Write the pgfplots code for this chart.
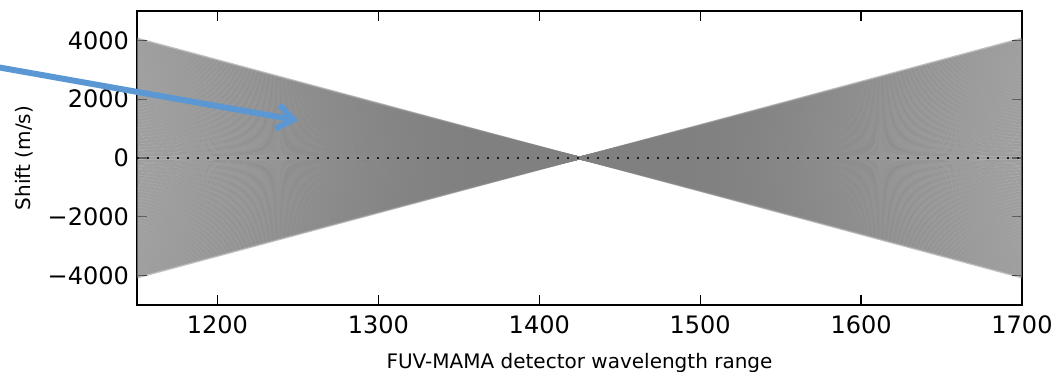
\documentclass[border=0pt]{standalone}
\usepackage{fontspec}
\setmainfont{DejaVu Sans}
\usepackage{pgfplots}
\usepackage{pgfplotstable}
\pgfplotsset{compat=1.18}
\usetikzlibrary{arrows.meta}
\definecolor{arrowblue}{RGB}{91,152,211}
\pgfplotstableread{
x y u v
1150 4050 550 -8100
1150 4000 550 -8000
1150 3950 550 -7900
1150 3900 550 -7800
1150 3850 550 -7700
1150 3800 550 -7600
1150 3750 550 -7500
1150 3700 550 -7400
1150 3650 550 -7300
1150 3600 550 -7200
1150 3550 550 -7100
1150 3500 550 -7000
1150 3450 550 -6900
1150 3400 550 -6800
1150 3350 550 -6700
1150 3300 550 -6600
1150 3250 550 -6500
1150 3200 550 -6400
1150 3150 550 -6300
1150 3100 550 -6200
1150 3050 550 -6100
1150 3000 550 -6000
1150 2950 550 -5900
1150 2900 550 -5800
1150 2850 550 -5700
1150 2800 550 -5600
1150 2750 550 -5500
1150 2700 550 -5400
1150 2650 550 -5300
1150 2600 550 -5200
1150 2550 550 -5100
1150 2500 550 -5000
1150 2450 550 -4900
1150 2400 550 -4800
1150 2350 550 -4700
1150 2300 550 -4600
1150 2250 550 -4500
1150 2200 550 -4400
1150 2150 550 -4300
1150 2100 550 -4200
1150 2050 550 -4100
1150 2000 550 -4000
1150 1950 550 -3900
1150 1900 550 -3800
1150 1850 550 -3700
1150 1800 550 -3600
1150 1750 550 -3500
1150 1700 550 -3400
1150 1650 550 -3300
1150 1600 550 -3200
1150 1550 550 -3100
1150 1500 550 -3000
1150 1450 550 -2900
1150 1400 550 -2800
1150 1350 550 -2700
1150 1300 550 -2600
1150 1250 550 -2500
1150 1200 550 -2400
1150 1150 550 -2300
1150 1100 550 -2200
1150 1050 550 -2100
1150 1000 550 -2000
1150 950 550 -1900
1150 900 550 -1800
1150 850 550 -1700
1150 800 550 -1600
1150 750 550 -1500
1150 700 550 -1400
1150 650 550 -1300
1150 600 550 -1200
1150 550 550 -1100
1150 500 550 -1000
1150 450 550 -900
1150 400 550 -800
1150 350 550 -700
1150 300 550 -600
1150 250 550 -500
1150 200 550 -400
1150 150 550 -300
1150 100 550 -200
1150 50 550 -100
1150 0 550 0
1150 -50 550 100
1150 -100 550 200
1150 -150 550 300
1150 -200 550 400
1150 -250 550 500
1150 -300 550 600
1150 -350 550 700
1150 -400 550 800
1150 -450 550 900
1150 -500 550 1000
1150 -550 550 1100
1150 -600 550 1200
1150 -650 550 1300
1150 -700 550 1400
1150 -750 550 1500
1150 -800 550 1600
1150 -850 550 1700
1150 -900 550 1800
1150 -950 550 1900
1150 -1000 550 2000
1150 -1050 550 2100
1150 -1100 550 2200
1150 -1150 550 2300
1150 -1200 550 2400
1150 -1250 550 2500
1150 -1300 550 2600
1150 -1350 550 2700
1150 -1400 550 2800
1150 -1450 550 2900
1150 -1500 550 3000
1150 -1550 550 3100
1150 -1600 550 3200
1150 -1650 550 3300
1150 -1700 550 3400
1150 -1750 550 3500
1150 -1800 550 3600
1150 -1850 550 3700
1150 -1900 550 3800
1150 -1950 550 3900
1150 -2000 550 4000
1150 -2050 550 4100
1150 -2100 550 4200
1150 -2150 550 4300
1150 -2200 550 4400
1150 -2250 550 4500
1150 -2300 550 4600
1150 -2350 550 4700
1150 -2400 550 4800
1150 -2450 550 4900
1150 -2500 550 5000
1150 -2550 550 5100
1150 -2600 550 5200
1150 -2650 550 5300
1150 -2700 550 5400
1150 -2750 550 5500
1150 -2800 550 5600
1150 -2850 550 5700
1150 -2900 550 5800
1150 -2950 550 5900
1150 -3000 550 6000
1150 -3050 550 6100
1150 -3100 550 6200
1150 -3150 550 6300
1150 -3200 550 6400
1150 -3250 550 6500
1150 -3300 550 6600
1150 -3350 550 6700
1150 -3400 550 6800
1150 -3450 550 6900
1150 -3500 550 7000
1150 -3550 550 7100
1150 -3600 550 7200
1150 -3650 550 7300
1150 -3700 550 7400
1150 -3750 550 7500
1150 -3800 550 7600
1150 -3850 550 7700
1150 -3900 550 7800
1150 -3950 550 7900
1150 -4000 550 8000
1150 -4050 550 8100
}\fan
\begin{document}
\begin{tikzpicture}
\begin{axis}[
  name=ax,
  scale only axis,
  width=442.5pt, height=147pt,
  xmin=1150, xmax=1700, ymin=-5000, ymax=5000,
  xtick={1200,1300,1400,1500,1600,1700},
  xticklabels={1200,1300,1400,1500,1600,1700},
  ytick={-4000,-2000,0,2000,4000},
  yticklabels={−4000,−2000,0,2000,4000},
  tick align=inside,
  major tick length=5pt,
  every tick/.style={black, line width=0.6pt},
  axis line style={black, line width=0.6pt},
  ticklabel style={font=\fontsize{12}{14}\selectfont},
  xticklabel style={yshift=-2pt},
  yticklabel style={xshift=-0.5pt},
  xlabel={FUV-MAMA detector wavelength range},
  ylabel={Shift (m/s)},
  every axis x label/.style={at={(axis description cs:0.5,-0.2143)}, anchor=base, font=\fontsize{10}{12}\selectfont},
  every axis y label/.style={at={(axis description cs:-0.1209,0.5)}, anchor=base, rotate=90, font=\fontsize{10}{12}\selectfont},
]
\addplot[black!50, line width=1.4pt, opacity=0.5,
  quiver={u=\thisrow{u}, v=\thisrow{v}}] table[x=x, y=y] {\fan};
\addplot[black!88, line width=1pt, dash pattern=on 1pt off 4pt] coordinates {(1150,0) (1700,0)};
\coordinate (arrS) at (axis cs:1058.6,3136);
\coordinate (arrE) at (axis cs:1250.2,1278);
\end{axis}
\draw[arrowblue, line width=3pt, -{Straight Barb[length=8pt, width=12pt]}] (arrS) -- (arrE);
\pgfresetboundingbox
\path[use as bounding box] ([shift={(-68.5pt,-33pt)}]ax.south west) rectangle ([shift={(18pt,5.5pt)}]ax.north east);
\end{tikzpicture}
\end{document}
